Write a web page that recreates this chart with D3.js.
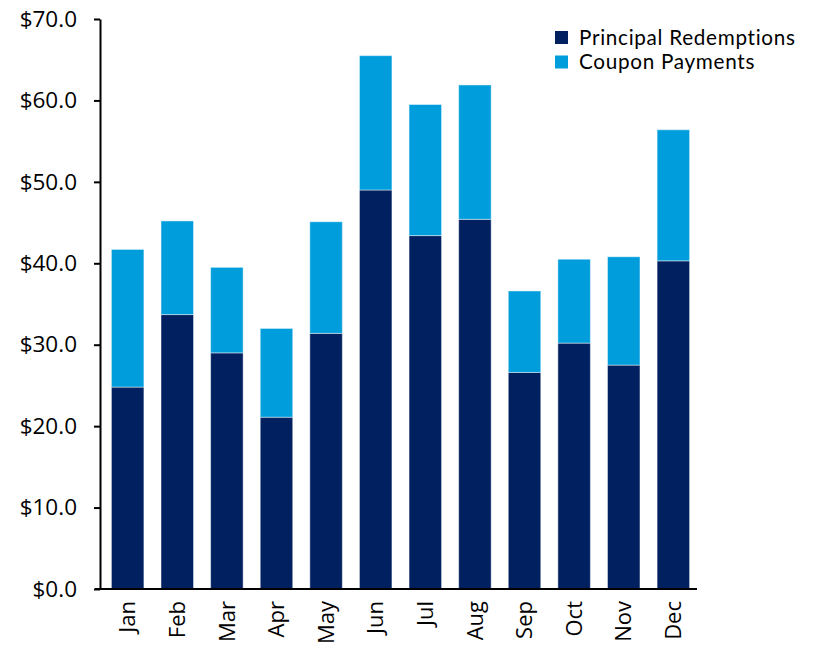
<!DOCTYPE html>
<html>
<head>
<meta charset="utf-8">
<script src="https://cdn.jsdelivr.net/npm/d3@7/dist/d3.min.js"></script>
<style>
  html, body { margin: 0; padding: 0; background: #ffffff; }
  svg { display: block; }
  text { font-family: "Open Sans", "Noto Sans", sans-serif; fill: #000000; }
</style>
</head>
<body>
<svg id="chart" width="814" height="651"></svg>
<script>
// Monthly cash flows (USD), stacked: principal at the base, coupons on top
const months = ["Jan", "Feb", "Mar", "Apr", "May", "Jun", "Jul", "Aug", "Sep", "Oct", "Nov", "Dec"];
const principal = [24.8, 33.7, 29.0, 21.1, 31.4, 49.0, 43.4, 45.4, 26.6, 30.2, 27.5, 40.3];
const totals    = [41.7, 45.2, 39.5, 32.0, 45.1, 65.5, 59.5, 61.9, 36.6, 40.5, 40.8, 56.4];
const coupon = totals.map((t, i) => +(t - principal[i]).toFixed(1));
const yTicks = [0, 10, 20, 30, 40, 50, 60, 70];
const seriesNames = ["Principal Redemptions", "Coupon Payments"];
const seriesColors = ["#002060", "#009DDC"];

const svg = d3.select("#chart");
const plot = { left: 100, right: 697, top: 19, bottom: 589 };

const x = d3.scaleBand()
  .domain(months)
  .range([plot.left, 701])
  .paddingInner(0.345)
  .paddingOuter(0.23);

const y = d3.scaleLinear()
  .domain([0, 70])
  .range([plot.bottom, plot.top]);

// Stack layout built from the two series
const rows = months.map((m, i) => ({ month: m, principal: principal[i], coupon: coupon[i] }));
const stacked = d3.stack().keys(["principal", "coupon"])(rows);

const layers = svg.append("g")
  .selectAll("g")
  .data(stacked)
  .join("g")
  .attr("fill", (d, i) => seriesColors[i]);

layers.selectAll("rect")
  .data(d => d)
  .join("rect")
  .attr("x", d => x(d.data.month))
  .attr("width", x.bandwidth())
  .attr("y", d => y(d[1]))
  .attr("height", d => y(d[0]) - y(d[1]))
  .attr("stroke", "rgba(255,255,255,0.45)")
  .attr("stroke-width", 1);

// Y axis
const yAxis = svg.append("g")
  .attr("transform", `translate(${plot.left},0)`)
  .call(d3.axisLeft(y)
    .tickValues(yTicks)
    .tickFormat(d => "$" + d3.format(".1f")(d))
    .tickSize(6)
    .tickSizeOuter(0)
    .tickPadding(17));
yAxis.select(".domain").attr("stroke", "#000").attr("stroke-width", 2);
yAxis.selectAll(".tick line").attr("stroke", "#000").attr("stroke-width", 2);
yAxis.selectAll(".tick text")
  .attr("font-size", 22.5)
  .style("font-family", "'Open Sans', sans-serif");

// X axis (baseline only, rotated month labels)
const xAxis = svg.append("g")
  .attr("transform", `translate(0,${plot.bottom})`)
  .call(d3.axisBottom(x).tickSize(0).tickSizeOuter(0));
xAxis.select(".domain").remove();
svg.append("line")
  .attr("x1", 95).attr("x2", plot.right)
  .attr("y1", plot.bottom).attr("y2", plot.bottom)
  .attr("stroke", "#000").attr("stroke-width", 2);
xAxis.selectAll(".tick text")
  .attr("font-size", 22)
  .attr("text-anchor", "end")
  .attr("dy", "0.35em")
  .attr("transform", "translate(0,12) rotate(-90)")
  .attr("x", 0)
  .attr("y", 0)
  .style("font-family", "'Open Sans', sans-serif");

// Legend: two rows, set a little tighter than the font's line box
const legend = svg.append("g").attr("transform", "translate(555,31)");
const items = legend.selectAll("g")
  .data(seriesNames)
  .join("g")
  .attr("transform", (d, i) => `translate(0,${i * 24.5})`);
items.append("rect")
  .attr("width", 13).attr("height", 13)
  .attr("fill", (d, i) => seriesColors[i]);
items.append("text")
  .attr("x", 24)
  .attr("y", 6.5)
  .attr("dy", "0.35em")
  .attr("font-size", 20.7)
  .style("font-family", "Lato, 'Open Sans', sans-serif")
  .style("letter-spacing", "0.7px")
  .text(d => d);
</script>
</body>
</html>
